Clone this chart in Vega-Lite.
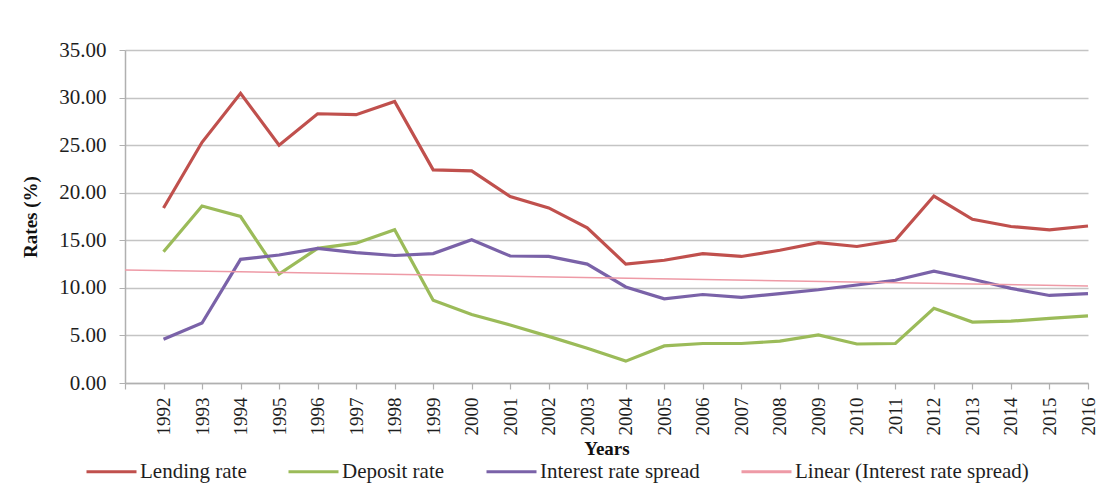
{
  "$schema": "https://vega.github.io/schema/vega-lite/v6.json",
  "autosize": "none",
  "width": 963,
  "height": 333,
  "padding": {"left": 125, "top": 50, "right": 20, "bottom": 112},
  "background": "white",
  "config": {
    "font": "Liberation Serif",
    "view": {"stroke": null},
    "axis": {"labelFont": "Liberation Serif", "titleFont": "Liberation Serif", "labelColor": "#1e1e1e", "titleColor": "#111"},
    "legend": {"labelFont": "Liberation Serif"}
  },
  "data": {
    "values": [
      {"year": 1992, "series": "Lending rate", "value": 18.4},
      {"year": 1993, "series": "Lending rate", "value": 25.3},
      {"year": 1994, "series": "Lending rate", "value": 30.45},
      {"year": 1995, "series": "Lending rate", "value": 25.0},
      {"year": 1996, "series": "Lending rate", "value": 28.3},
      {"year": 1997, "series": "Lending rate", "value": 28.2},
      {"year": 1998, "series": "Lending rate", "value": 29.6},
      {"year": 1999, "series": "Lending rate", "value": 22.4},
      {"year": 2000, "series": "Lending rate", "value": 22.3},
      {"year": 2001, "series": "Lending rate", "value": 19.6},
      {"year": 2002, "series": "Lending rate", "value": 18.4},
      {"year": 2003, "series": "Lending rate", "value": 16.3},
      {"year": 2004, "series": "Lending rate", "value": 12.5},
      {"year": 2005, "series": "Lending rate", "value": 12.9},
      {"year": 2006, "series": "Lending rate", "value": 13.6},
      {"year": 2007, "series": "Lending rate", "value": 13.3},
      {"year": 2008, "series": "Lending rate", "value": 13.95},
      {"year": 2009, "series": "Lending rate", "value": 14.75},
      {"year": 2010, "series": "Lending rate", "value": 14.35},
      {"year": 2011, "series": "Lending rate", "value": 15.0},
      {"year": 2012, "series": "Lending rate", "value": 19.65},
      {"year": 2013, "series": "Lending rate", "value": 17.2},
      {"year": 2014, "series": "Lending rate", "value": 16.45},
      {"year": 2015, "series": "Lending rate", "value": 16.1},
      {"year": 2016, "series": "Lending rate", "value": 16.5},
      {"year": 1992, "series": "Deposit rate", "value": 13.8},
      {"year": 1993, "series": "Deposit rate", "value": 18.6},
      {"year": 1994, "series": "Deposit rate", "value": 17.5},
      {"year": 1995, "series": "Deposit rate", "value": 11.45},
      {"year": 1996, "series": "Deposit rate", "value": 14.15},
      {"year": 1997, "series": "Deposit rate", "value": 14.7},
      {"year": 1998, "series": "Deposit rate", "value": 16.1},
      {"year": 1999, "series": "Deposit rate", "value": 8.7},
      {"year": 2000, "series": "Deposit rate", "value": 7.2},
      {"year": 2001, "series": "Deposit rate", "value": 6.1},
      {"year": 2002, "series": "Deposit rate", "value": 4.9},
      {"year": 2003, "series": "Deposit rate", "value": 3.65},
      {"year": 2004, "series": "Deposit rate", "value": 2.3},
      {"year": 2005, "series": "Deposit rate", "value": 3.9},
      {"year": 2006, "series": "Deposit rate", "value": 4.15},
      {"year": 2007, "series": "Deposit rate", "value": 4.15},
      {"year": 2008, "series": "Deposit rate", "value": 4.4},
      {"year": 2009, "series": "Deposit rate", "value": 5.05},
      {"year": 2010, "series": "Deposit rate", "value": 4.1},
      {"year": 2011, "series": "Deposit rate", "value": 4.15},
      {"year": 2012, "series": "Deposit rate", "value": 7.85},
      {"year": 2013, "series": "Deposit rate", "value": 6.4},
      {"year": 2014, "series": "Deposit rate", "value": 6.5},
      {"year": 2015, "series": "Deposit rate", "value": 6.8},
      {"year": 2016, "series": "Deposit rate", "value": 7.05},
      {"year": 1992, "series": "Interest rate spread", "value": 4.6},
      {"year": 1993, "series": "Interest rate spread", "value": 6.3},
      {"year": 1994, "series": "Interest rate spread", "value": 13.0},
      {"year": 1995, "series": "Interest rate spread", "value": 13.45},
      {"year": 1996, "series": "Interest rate spread", "value": 14.15},
      {"year": 1997, "series": "Interest rate spread", "value": 13.7},
      {"year": 1998, "series": "Interest rate spread", "value": 13.4},
      {"year": 1999, "series": "Interest rate spread", "value": 13.6},
      {"year": 2000, "series": "Interest rate spread", "value": 15.05},
      {"year": 2001, "series": "Interest rate spread", "value": 13.35},
      {"year": 2002, "series": "Interest rate spread", "value": 13.3},
      {"year": 2003, "series": "Interest rate spread", "value": 12.5},
      {"year": 2004, "series": "Interest rate spread", "value": 10.1},
      {"year": 2005, "series": "Interest rate spread", "value": 8.85},
      {"year": 2006, "series": "Interest rate spread", "value": 9.3},
      {"year": 2007, "series": "Interest rate spread", "value": 9.0},
      {"year": 2008, "series": "Interest rate spread", "value": 9.4},
      {"year": 2009, "series": "Interest rate spread", "value": 9.8},
      {"year": 2010, "series": "Interest rate spread", "value": 10.3},
      {"year": 2011, "series": "Interest rate spread", "value": 10.8},
      {"year": 2012, "series": "Interest rate spread", "value": 11.75},
      {"year": 2013, "series": "Interest rate spread", "value": 10.9},
      {"year": 2014, "series": "Interest rate spread", "value": 9.95},
      {"year": 2015, "series": "Interest rate spread", "value": 9.2},
      {"year": 2016, "series": "Interest rate spread", "value": 9.4}
    ]
  },
  "encoding": {
    "x": {
      "field": "year",
      "type": "quantitative",
      "scale": {"domain": [1991, 2016], "nice": false, "zero": false},
      "axis": {
        "title": "Years",
        "titleFontSize": 19,
        "titleFontWeight": "bold",
        "titlePadding": 4,
        "values": [1991, 1992, 1993, 1994, 1995, 1996, 1997, 1998, 1999, 2000, 2001, 2002, 2003, 2004, 2005, 2006, 2007, 2008, 2009, 2010, 2011, 2012, 2013, 2014, 2015, 2016],
        "labelExpr": "datum.value == 1991 ? '' : datum.value",
        "labelAngle": 270,
        "labelAlign": "right",
        "labelBaseline": "middle",
        "labelFontSize": 19,
        "labelPadding": 8,
        "labelOverlap": false,
        "labelFlush": false,
        "grid": false,
        "domainColor": "#b0b0b0",
        "domainWidth": 1.5,
        "tickColor": "#b0b0b0",
        "tickSize": 6,
        "tickWidth": 1.2
      }
    },
    "y": {
      "field": "value",
      "type": "quantitative",
      "scale": {"domain": [0, 35], "nice": false},
      "axis": {
        "title": "Rates (%)",
        "titleFontSize": 19,
        "titleFontWeight": "bold",
        "titlePadding": 18,
        "values": [0, 5, 10, 15, 20, 25, 30, 35],
        "format": ".2f",
        "labelFontSize": 21,
        "labelPadding": 13,
        "grid": true,
        "gridColor": "#c4c4c4",
        "gridWidth": 1.5,
        "domainColor": "#b0b0b0",
        "domainWidth": 1.5,
        "tickColor": "#b0b0b0",
        "tickSize": 6
      }
    }
  },
  "layer": [
    {
      "mark": {"type": "line", "strokeWidth": 3.2},
      "encoding": {
        "color": {
          "field": "series",
          "type": "nominal",
          "scale": {
            "domain": ["Lending rate", "Deposit rate", "Interest rate spread", "Linear (Interest rate spread)"],
            "range": ["#C0504D", "#9BBB59", "#7A62A8", "#EE9AA6"]
          },
          "legend": {
            "title": null,
            "orient": "none",
            "direction": "horizontal",
            "legendX": -40,
            "legendY": 395,
            "columns": 4,
            "columnPadding": 35,
            "symbolType": "stroke",
            "symbolSize": 2500,
            "symbolStrokeWidth": 3,
            "labelFontSize": 21,
            "labelColor": "#1e1e1e",
            "labelLimit": 400,
            "labelOffset": 2
          }
        }
      }
    },
    {
      "transform": [
        {"filter": "datum.series == 'Interest rate spread'"},
        {"regression": "value", "on": "year", "method": "linear", "extent": [1991, 2016]}
      ],
      "mark": {"type": "line", "strokeWidth": 1.5},
      "encoding": {
        "color": {"datum": "Linear (Interest rate spread)"}
      }
    }
  ]
}
